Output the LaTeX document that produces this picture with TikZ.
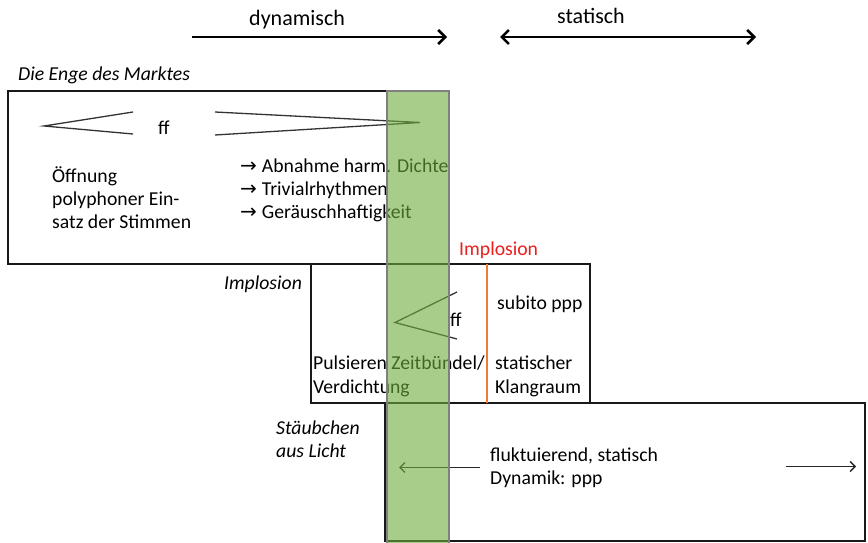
\documentclass[tikz,border=0pt]{standalone}
\usepackage{fontspec}
\setmainfont{Carlito}
\newfontfamily\arrowfont{DejaVu Sans}
\usetikzlibrary{arrows.meta}
\definecolor{bargreen}{RGB}{110,172,63}
\definecolor{implred}{RGB}{235,30,30}
\definecolor{orangeline}{RGB}{237,125,49}
\newcommand{\rarr}{{\arrowfont\fontsize{20}{24}\selectfont→}\hspace{5pt}}
\begin{document}
\begin{tikzpicture}[x=1pt,y=-1pt,
  font=\fontsize{19.7}{23}\selectfont,
  txt/.style={anchor=base west, inner sep=0pt},
  toptxt/.style={txt, font=\fontsize{22}{26}\selectfont},
  itxt/.style={txt, font=\fontsize{19.7}{23}\selectfont\itshape},
  boxline/.style={draw=black!90, line width=2pt},
  hairpin/.style={draw=black!80, line width=1.3pt},
  toparrow/.style={draw=black, line width=2.8pt, -{Straight Barb[length=7pt,width=14pt,line width=2.6pt]}},
  toparrowboth/.style={draw=black, line width=2.8pt, {Straight Barb[length=7pt,width=14pt,line width=2.6pt]}-{Straight Barb[length=7pt,width=14pt,line width=2.6pt]}},
  thinarrow/.style={draw=black!85, line width=1.4pt, -{Straight Barb[length=5pt,width=10pt,line width=1.4pt]}}
]
\useasboundingbox (0,0) rectangle (868,543);
\fill[white] (0,0) rectangle (868,543);

% top labels and arrows
\node[toptxt] (dyn) at (249,26) {dynamisch};
\node[toptxt] (stat) at (557,24) {statisch};
\coordinate (d1) at (192,37);
\coordinate (d2) at (447,37);
\coordinate (s1) at (500,37);
\coordinate (s2) at (756,37);
\draw[toparrow] (d1) -- (d2);
\draw[toparrowboth] (s1) -- (s2);

\node[itxt] (enge) at (18,81) {Die Enge des Marktes};

% boxes
\draw[boxline] (8,91) rectangle (449,264);
\draw[boxline] (311,264) rectangle (590,403);
\draw[boxline] (385,403) rectangle (865,541);
\coordinate (o1) at (487,264);
\coordinate (o2) at (487,403);
\draw[orangeline, line width=1.4pt] (o1) -- (o2);

% box 1 contents
\coordinate (c1t) at (44,126);
\coordinate (c1a) at (133,112);
\coordinate (c1b) at (133,134);
\draw[hairpin] (c1a) -- (c1t) -- (c1b);
\node[txt] (ff1) at (158,134) {ff};
\coordinate (d1a) at (215,112);
\coordinate (d1b) at (215,135);
\coordinate (d1t) at (420,122.5);
\draw[hairpin] (d1a) -- (d1t) -- (d1b);

\node[txt] (oe1) at (52,182) {Öffnung};
\node[txt] (oe2) at (52,205) {polyphoner Ein-};
\node[txt] (oe3) at (52,228) {satz der Stimmen};

\node[txt] (ab) at (240,172.5) {\rarr Abnahme harm. Dichte};
\node[txt] (tr) at (240,195.5) {\rarr Trivialrhythmen};
\node[txt] (ge) at (240,218.5) {\rarr Geräuschhaftigkeit};

% labels between boxes
\node[txt, text=implred] (impred) at (459,255) {Implosion};
\node[itxt] (impl) at (224,289) {Implosion};

% box 2 contents
\coordinate (c2t) at (395,322.5);
\coordinate (c2a) at (457,292);
\coordinate (c2b) at (457,339);
\draw[hairpin] (c2a) -- (c2t) -- (c2b);
\node[txt] (ff2) at (450,326) {ff};
\node[txt] (sub) at (497,309) {subito ppp};
\node[txt] (pul) at (313,369.5) {Pulsieren Zeitbündel/};
\node[txt] (ver) at (313,393.5) {Verdichtung};
\node[txt] (sta) at (495,369.5) {statischer};
\node[txt] (kla) at (495,393.5) {Klangraum};

% box 3
\node[itxt] (staeub) at (276,434) {Stäubchen};
\node[itxt] (licht) at (276,457) {aus Licht};
\node[txt] (flu) at (490,461) {fluktuierend, statisch};
\node[txt] (dynp) at (490,484) {Dynamik: ppp};
\coordinate (la1) at (480,467.5);
\coordinate (la2) at (399,467.5);
\draw[thinarrow] (la1) -- (la2);
\coordinate (ra1) at (786,466.5);
\coordinate (ra2) at (856,466.5);
\draw[thinarrow] (ra1) -- (ra2);

% green bar on top (semi transparent)
\fill[bargreen, opacity=0.6] (387,91) rectangle (449,548);
\draw[draw=gray, line width=2pt] (387,548) -- (387,91) -- (449,91) -- (449,548);
\end{tikzpicture}
\end{document}
